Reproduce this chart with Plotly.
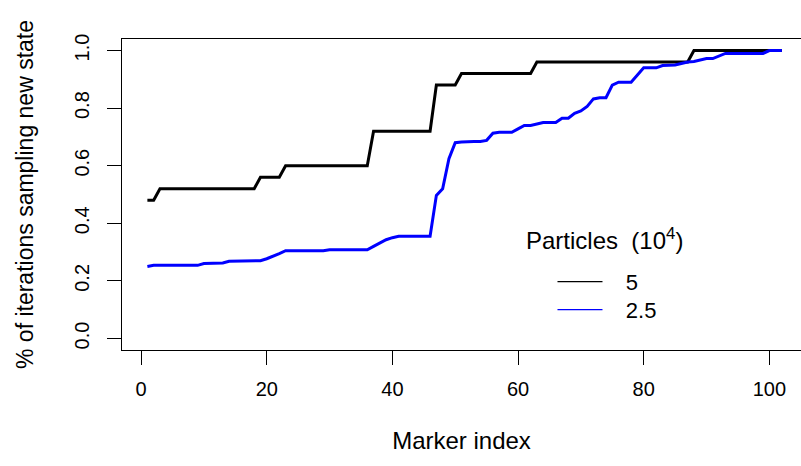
import plotly.graph_objects as go

# Marker positions along the chromosome
marker_index = list(range(1, 103))

# Fraction of iterations sampling a new state, 5e4 particles
frac_5 = ([0.48, 0.48] + [0.52] * 16 + [0.56] * 4 + [0.60] * 14 + [0.72] * 10
          + [0.88] * 4 + [0.92] * 12 + [0.96] * 25 + [1.00] * 15)

# Fraction of iterations sampling a new state, 2.5e4 particles
frac_25 = ([0.250] + [0.254] * 8 + [0.260] * 3 + [0.262] + [0.268] * 5
           + [0.270, 0.277, 0.285, 0.295] + [0.305] * 7 + [0.308] * 7
           + [0.320, 0.332, 0.343, 0.350] + [0.355] * 6
           + [0.497, 0.520, 0.624, 0.680, 0.682, 0.684, 0.684, 0.684, 0.688]
           + [0.713, 0.716, 0.716, 0.716, 0.728, 0.740, 0.740, 0.745]
           + [0.750] * 3 + [0.765] * 2
           + [0.782, 0.790, 0.806, 0.832, 0.836, 0.836, 0.880]
           + [0.890] * 3 + [0.915] + [0.940] * 3 + [0.948] * 2
           + [0.950, 0.955, 0.960, 0.962, 0.968, 0.972, 0.972, 0.980]
           + [0.990] * 7 + [1.000] * 3)

series_names = ["5", "2.5"]
series_colors = ["#000000", "#0000ff"]
legend_ids = ["legend", "legend2"]

x_ticks = [0, 20, 40, 60, 80, 100]
y_ticks = [0.0, 0.2, 0.4, 0.6, 0.8, 1.0]
y_tick_text = ["0.0", "0.2", "0.4", "0.6", "0.8", "1.0"]

FONT = "Liberation Sans, Arial, sans-serif"
PAD = "\u00a0\u00a0\u00a0"  # gap between legend sample line and its label

fig = go.Figure()
for ys, name, col, lg in zip([frac_5, frac_25], series_names, series_colors,
                             legend_ids):
    fig.add_trace(go.Scatter(x=marker_index, y=ys, mode="lines", name=name,
                             line=dict(color=col, width=3), showlegend=False))
    # thin sample line for the legend
    fig.add_trace(go.Scatter(x=[marker_index[0]], y=[ys[0]], mode="lines",
                             name=PAD + name, legend=lg, visible=True,
                             line=dict(color=col, width=1.2), showlegend=True,
                             hoverinfo="skip", opacity=1))

legend_style = dict(xanchor="left", yanchor="middle",
                    bgcolor="rgba(0,0,0,0)", font=dict(size=22),
                    itemwidth=45, borderwidth=0)

fig.update_layout(
    width=801, height=466,
    margin=dict(l=122, r=0, t=39, b=116),
    paper_bgcolor="white", plot_bgcolor="white",
    font=dict(family=FONT, size=20, color="black"),
    showlegend=True,
    legend=dict(x=0.634, y=0.219, **legend_style),
    legend2=dict(x=0.634, y=0.129, **legend_style),
)

fig.update_xaxes(
    range=[-3.04, 105.04], tickvals=x_ticks, ticks="outside", ticklen=14,
    tickwidth=1, tickcolor="black", showline=True, linecolor="black",
    linewidth=1, mirror=True, showgrid=False, zeroline=False,
    tickfont=dict(size=20), ticklabelstandoff=7,
    title=dict(text="Marker index", font=dict(size=24), standoff=33),
)
fig.update_yaxes(
    range=[-0.04, 1.04], tickvals=y_ticks, ticktext=y_tick_text,
    ticks="outside", ticklen=14, tickwidth=1, tickcolor="black",
    showline=True, linecolor="black", linewidth=1, mirror=False,
    showgrid=False, zeroline=False, tickangle=-90, tickfont=dict(size=20),
    ticklabelstandoff=10,
    title=dict(text="% of iterations sampling new state", font=dict(size=23),
               standoff=30),
)

fig.add_annotation(
    text="Particles  (10<sup>4</sup>)", xref="paper", yref="paper",
    x=0.71, y=0.357, xanchor="center", yanchor="middle", showarrow=False,
    font=dict(size=24),
)

fig.write_html("out.html")
